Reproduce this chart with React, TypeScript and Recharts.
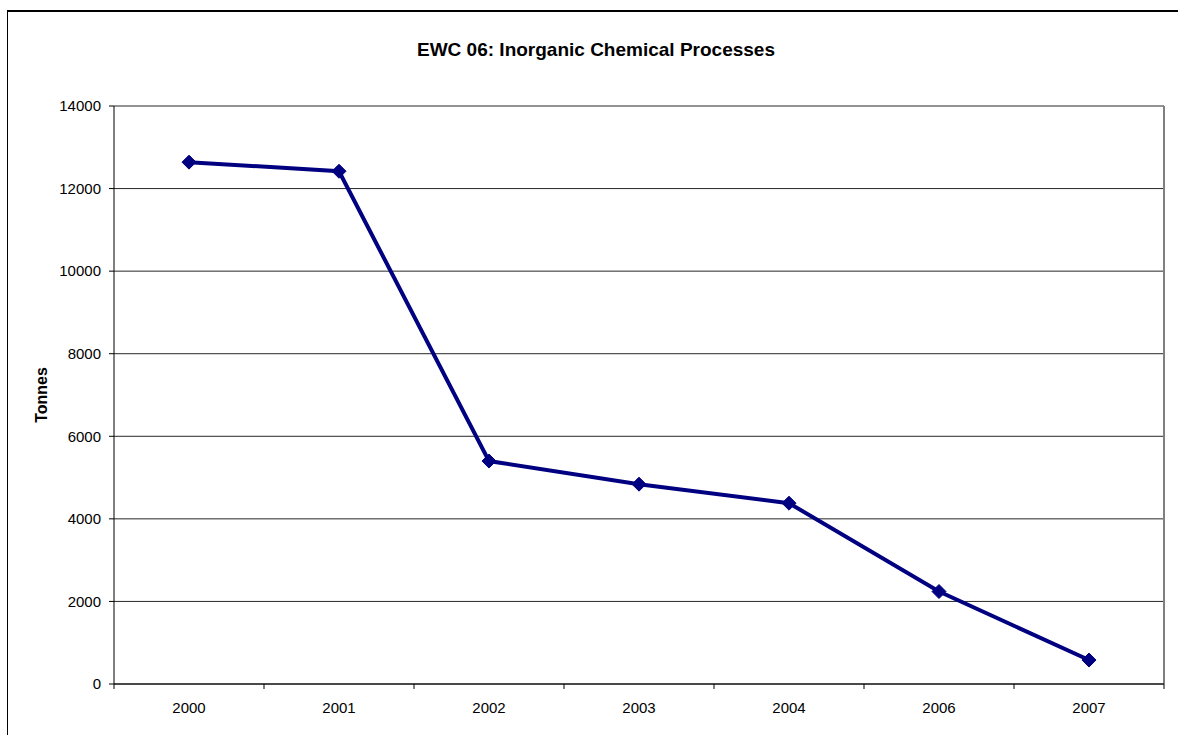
import { LineChart, Line, XAxis, YAxis, CartesianGrid, ReferenceLine, Label } from 'recharts'

const years = ['2000', '2001', '2002', '2003', '2004', '2006', '2007']
const tonnes = [12640, 12420, 5400, 4840, 4380, 2240, 580]
const yTicks = [0, 2000, 4000, 6000, 8000, 10000, 12000, 14000]

const data = years.map((year, i) => ({ x: i, year, tonnes: tonnes[i] }))
// category centres for labels, category edges for tick marks (Excel style)
const xTicks = years.flatMap((_, i) => (i === 0 ? [i - 0.5, i, i + 0.5] : [i, i + 0.5]))

const FONT = '"Liberation Sans", Arial, sans-serif'
const NAVY = '#000080'

function XTick(props: any) {
  const { x, y, payload } = props
  const v = Number(payload.value)
  if (!Number.isInteger(v)) {
    return <line x1={x} x2={x} y1={y} y2={y + 5} stroke="#000" strokeWidth={1} />
  }
  return (
    <text x={x} y={y + 29} textAnchor="middle" fontFamily={FONT} fontSize={15} fill="#000">
      {years[v]}
    </text>
  )
}

function Diamond(props: any) {
  const { cx, cy, index } = props
  const r = 7
  return (
    <polygon
      key={`d-${index}`}
      points={`${cx},${cy - r} ${cx + r},${cy} ${cx},${cy + r} ${cx - r},${cy}`}
      fill={NAVY}
      stroke={NAVY}
    />
  )
}

export default function App() {
  return (
    <div style={{ position: 'fixed', left: 0, top: 0, width: 1178, height: 735, overflow: 'hidden', background: '#fff' }}>
      <div
        style={{
          position: 'absolute',
          left: 7,
          top: 10,
          width: 1200,
          height: 800,
          borderLeft: '1px solid #000',
          borderTop: '2px solid #000',
        }}
      />
      <div
        style={{
          position: 'absolute',
          left: 0,
          width: 1192,
          top: 38,
          textAlign: 'center',
          fontFamily: FONT,
          fontWeight: 'bold',
          fontSize: 19,
          lineHeight: '24px',
        }}
      >
        EWC 06: Inorganic Chemical Processes
      </div>
      <div style={{ position: 'absolute', left: 0, top: 0 }}>
        <LineChart width={1178} height={735} data={data} margin={{ top: 106, right: 14, bottom: 21, left: 34 }}>
          <CartesianGrid vertical={false} stroke="#000" strokeOpacity={0.85} />
          <XAxis
            dataKey="x"
            type="number"
            domain={[-0.5, years.length - 0.5]}
            ticks={xTicks}
            interval={0}
            tickLine={false}
            tickSize={0}
            tickMargin={0}
            tick={<XTick />}
            height={30}
            axisLine={{ stroke: '#000' }}
          />
          <YAxis
            type="number"
            domain={[0, 14000]}
            ticks={yTicks}
            interval={0}
            width={80}
            tickSize={5}
            tickMargin={8}
            tickLine={{ stroke: '#000' }}
            axisLine={{ stroke: '#000' }}
            tick={{ fill: '#000', fontSize: 15, fontFamily: FONT }}
          >
            <Label
              value="Tonnes"
              angle={-90}
              position="insideLeft"
              offset={7}
              style={{ textAnchor: 'middle', fontWeight: 'bold', fontSize: 16, fontFamily: FONT, fill: '#000' }}
            />
          </YAxis>
          <ReferenceLine x={years.length - 0.5} stroke="#808080" strokeWidth={2} />
          <Line
            type="linear"
            dataKey="tonnes"
            stroke={NAVY}
            strokeWidth={4}
            dot={Diamond}
            activeDot={false}
            isAnimationActive={false}
          />
        </LineChart>
      </div>
    </div>
  )
}
